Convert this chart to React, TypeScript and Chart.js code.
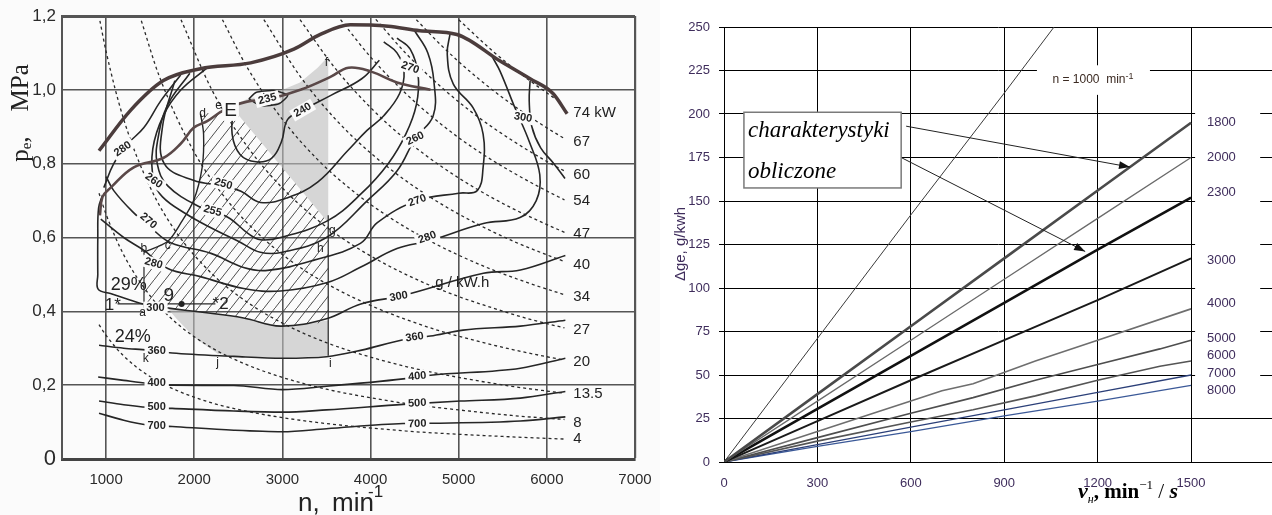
import React, { useEffect, useRef } from 'react';
import { Chart, registerables } from 'chart.js';

Chart.register(...registerables);
Chart.defaults.font.family = '"Liberation Sans", Arial, sans-serif';

// ================= LEFT PANEL: engine map =================
const nTicks = [1000, 2000, 3000, 4000, 5000, 6000, 7000];
const peTicks = [0, 0.2, 0.4, 0.6, 0.8, 1.0, 1.2];

const fullLoadN = [920, 1280, 1650, 2070, 2640, 3130, 3430, 3770, 4200, 4560, 4980, 5470, 5810, 6070, 6230];
const fullLoadPe = [0.835, 0.945, 1.025, 1.057, 1.073, 1.11, 1.15, 1.176, 1.172, 1.16, 1.15, 1.078, 1.03, 0.99, 0.935];

const eLineN = [930, 960, 1053, 1314, 1653, 1846, 1993, 2152, 2300, 2420, 2600, 2865, 3205, 3545, 3750, 4000, 4300, 4680];
const eLinePe = [0.66, 0.71, 0.735, 0.79, 0.816, 0.854, 0.897, 0.916, 0.94, 0.955, 0.968, 0.976, 1.0, 1.035, 1.06, 1.05, 1.02, 1.0];

const ge235N = [2620, 2700, 2900, 3060, 2960, 2760, 2620];
const ge235Pe = [0.975, 0.993, 0.998, 0.985, 0.962, 0.957, 0.975];
const ge240N = [2450, 2430, 2520, 2700, 2880, 2990, 3060, 3230, 3550, 3900, 4100];
const ge240Pe = [0.955, 0.88, 0.825, 0.805, 0.815, 0.86, 0.92, 0.945, 0.985, 1.03, 1.08];
const ge250N = [1780, 1640, 1660, 1990, 2330, 2530, 2750, 3060, 3400, 3740, 3960, 4150, 4330, 4380, 4300, 4150];
const ge250Pe = [1.025, 0.9, 0.8, 0.755, 0.74, 0.725, 0.695, 0.708, 0.75, 0.835, 0.89, 0.93, 0.99, 1.05, 1.1, 1.13];
const ge255N = [1950, 1700, 1590, 1580, 1700, 2070, 2380, 2605, 2750, 2980, 3510, 3900, 4200, 4400, 4520, 4540, 4450, 4300];
const ge255Pe = [1.045, 0.96, 0.87, 0.8, 0.74, 0.682, 0.655, 0.612, 0.594, 0.6, 0.645, 0.72, 0.8, 0.88, 0.96, 1.04, 1.11, 1.14];
const ge260N = [2150, 1850, 1650, 1530, 1540, 1640, 1900, 2200, 2500, 2750, 3000, 3500, 3964, 4300, 4507, 4711, 4720, 4650, 4500];
const ge260Pe = [1.06, 1.0, 0.93, 0.84, 0.754, 0.71, 0.665, 0.625, 0.59, 0.56, 0.56, 0.6, 0.7, 0.78, 0.868, 0.93, 1.02, 1.1, 1.16];
const ge270N = [1000, 1087, 1300, 1506, 1733, 2190, 2560, 2830, 3350, 3885, 4077, 4530, 5000, 5210, 5277, 5277, 5164, 4938, 4870, 4904];
const ge270Pe = [0.765, 0.727, 0.67, 0.627, 0.586, 0.557, 0.519, 0.511, 0.538, 0.584, 0.64, 0.7, 0.72, 0.727, 0.79, 0.88, 0.951, 1.016, 1.097, 1.154];
const ge280aN = [1846, 1620, 1427, 1246, 1087, 974];
const ge280aPe = [1.04, 0.97, 0.897, 0.854, 0.8, 0.735];
const ge280N = [940, 1200, 1430, 1700, 2070, 2560, 2980, 3510, 3890, 4300, 4677, 5280, 5696, 5880, 5920, 5800, 5640, 5470, 5380];
const ge280Pe = [0.65, 0.6, 0.565, 0.516, 0.494, 0.462, 0.455, 0.478, 0.52, 0.57, 0.592, 0.638, 0.654, 0.7, 0.77, 0.86, 0.95, 1.05, 1.09];
const ge300N = [960, 915, 906, 906, 910, 1050, 1280, 1420, 1730, 2070, 2560, 2980, 3500, 3890, 4370, 5280, 5700, 6210];
const ge300Pe = [0.715, 0.68, 0.6, 0.5, 0.46, 0.448, 0.43, 0.42, 0.408, 0.398, 0.382, 0.36, 0.38, 0.42, 0.443, 0.503, 0.512, 0.551];
const ge300bN = [5810, 5800, 5830, 5930, 6080, 6206];
const ge300bPe = [1.024, 0.97, 0.9, 0.843, 0.8, 0.76];
const ge360N = [920, 1200, 1470, 1750, 2450, 3000, 3500, 3900, 4370, 4680, 5050, 5700, 6210];
const ge360Pe = [0.308, 0.3, 0.295, 0.287, 0.278, 0.273, 0.277, 0.295, 0.323, 0.333, 0.349, 0.36, 0.376];
const ge400N = [910, 1200, 1470, 1750, 2450, 3000, 3500, 4370, 4680, 5700, 6210];
const ge400Pe = [0.222, 0.213, 0.205, 0.2, 0.199, 0.188, 0.197, 0.217, 0.227, 0.246, 0.273];
const ge500N = [920, 1200, 1470, 1750, 2450, 3000, 3500, 4370, 5020, 5700, 6210];
const ge500Pe = [0.157, 0.147, 0.14, 0.137, 0.13, 0.127, 0.133, 0.148, 0.157, 0.165, 0.183];
const ge700N = [920, 1200, 1470, 1750, 2450, 3000, 3500, 4370, 4700, 5700, 6210];
const ge700Pe = [0.124, 0.105, 0.092, 0.088, 0.078, 0.074, 0.082, 0.096, 0.097, 0.103, 0.114];

const abN = [1430, 1430];
const abPe = [0.41, 0.56];
const bcdN = [1430, 1700, 1850, 1993, 2090, 2106, 2072];
const bcdPe = [0.56, 0.59, 0.64, 0.7, 0.79, 0.88, 0.935];
const giN = [3520, 3520];
const giPe = [0.66, 0.28];
const moveN = [1130, 1857, 2240];
const movePe = [0.42, 0.42, 0.42];

const hatchN = [1430, 1430, 1700, 1850, 1993, 2090, 2106, 2072, 2300, 2420, 3520, 3520, 2980, 2560, 2070, 1730, 1430];
const hatchPe = [0.41, 0.56, 0.59, 0.64, 0.7, 0.79, 0.88, 0.935, 0.94, 0.955, 0.64, 0.37, 0.36, 0.382, 0.398, 0.408, 0.41];
const shadeTopN = [2420, 2600, 2900, 3200, 3400, 3520, 3520, 2420];
const shadeTopPe = [0.955, 0.975, 0.99, 1.02, 1.06, 1.09, 0.64, 0.955];
const shadeLowN = [1700, 2070, 2560, 2980, 3520, 3520, 3000, 2450, 2265, 2000, 1800, 1700];
const shadeLowPe = [0.408, 0.398, 0.382, 0.36, 0.375, 0.28, 0.273, 0.278, 0.285, 0.33, 0.38, 0.408];

// constant-power lines (dashed), kW
const p74N = [5000, 5400, 5800, 6100];
const p74Pe = [1.19, 1.102, 1.026, 0.975];
const p67N = [4520, 4800, 5200, 5600, 6000, 6200];
const p67Pe = [1.19, 1.121, 1.035, 0.961, 0.897, 0.868];
const p60N = [4060, 4400, 4800, 5200, 5600, 6000, 6200];
const p60Pe = [1.191, 1.099, 1.008, 0.93, 0.864, 0.806, 0.78];
const p54N = [3660, 4000, 4400, 4800, 5200, 5600, 6000, 6200];
const p54Pe = [1.19, 1.089, 0.99, 0.907, 0.837, 0.778, 0.726, 0.702];
const p47N = [3200, 3600, 4000, 4400, 4800, 5200, 5600, 6000, 6200];
const p47Pe = [1.19, 1.058, 0.952, 0.865, 0.793, 0.732, 0.68, 0.635, 0.614];
const p40N = [2790, 3200, 3600, 4000, 4400, 4800, 5200, 5600, 6000, 6200];
const p40Pe = [1.19, 1.037, 0.921, 0.829, 0.754, 0.691, 0.638, 0.592, 0.553, 0.535];
const p34N = [2320, 2600, 3000, 3400, 3800, 4200, 4600, 5000, 5400, 5800, 6200];
const p34Pe = [1.19, 1.061, 0.92, 0.811, 0.726, 0.657, 0.6, 0.552, 0.511, 0.476, 0.445];
const p27N = [1850, 2200, 2600, 3000, 3400, 3800, 4200, 4600, 5000, 5400, 5800, 6200];
const p27Pe = [1.19, 1.0, 0.847, 0.734, 0.647, 0.579, 0.524, 0.478, 0.44, 0.408, 0.379, 0.355];
const p20N = [1400, 1600, 2000, 2400, 2800, 3200, 3600, 4000, 4400, 4800, 5200, 5600, 6000, 6200];
const p20Pe = [1.187, 1.039, 0.831, 0.693, 0.594, 0.519, 0.462, 0.416, 0.378, 0.346, 0.32, 0.297, 0.277, 0.268];
const p13N = [930, 1000, 1200, 1500, 1800, 2200, 2600, 3000, 3500, 4000, 4500, 5000, 5600, 6200];
const p13Pe = [1.187, 1.104, 0.92, 0.736, 0.613, 0.502, 0.425, 0.368, 0.315, 0.276, 0.245, 0.221, 0.197, 0.178];
const p8N = [920, 1000, 1200, 1500, 1800, 2200, 2600, 3000, 3500, 4000, 4500, 5000, 5600, 6200];
const p8Pe = [0.72, 0.663, 0.553, 0.442, 0.368, 0.301, 0.255, 0.221, 0.189, 0.166, 0.147, 0.133, 0.118, 0.107];
const p4N = [920, 1000, 1200, 1500, 1800, 2200, 2600, 3000, 3500, 4000, 4500, 5000, 5600, 6200];
const p4Pe = [0.364, 0.335, 0.279, 0.223, 0.186, 0.152, 0.129, 0.112, 0.096, 0.084, 0.074, 0.067, 0.06, 0.054];

const powerLabelText = ['74 kW', '67', '60', '54', '47', '40', '34', '27', '20', '13.5', '8', '4'];
const powerLabelPe = [0.938, 0.859, 0.77, 0.7, 0.611, 0.527, 0.438, 0.351, 0.262, 0.176, 0.097, 0.054];
const powerLabelN = 6300;

const geLabelText = ['280', '260', '270', '250', '255', '240', '235', '260', '270', '270', '280', '300', '300', '280', '300', '360', '400', '500', '700', '360', '400', '500', '700'];
const geLabelN = [1190, 1540, 1480, 2330, 2208, 3230, 2830, 4507, 4450, 4530, 4643, 5730, 4320, 1540, 1560, 1574, 1574, 1574, 1574, 4500, 4530, 4530, 4530];
const geLabelPe = [0.84, 0.754, 0.645, 0.745, 0.672, 0.945, 0.975, 0.868, 1.06, 0.7, 0.6, 0.925, 0.44, 0.53, 0.41, 0.292, 0.205, 0.141, 0.089, 0.33, 0.224, 0.151, 0.095];
const geLabelAngle = [-35, 35, 40, 15, 15, -30, -15, -25, 20, -20, -20, 10, -10, 15, 0, 0, 0, 0, 0, -8, -5, -3, -2];

const pointText = ['a', 'b', 'c', 'd', 'e', 'f', 'g', 'h', 'i', 'j', 'k'];
const pointN = [1415, 1427, 1700, 2095, 2276, 3500, 3567, 3431, 3545, 2265, 1450];
const pointPe = [0.395, 0.57, 0.578, 0.935, 0.957, 1.073, 0.619, 0.57, 0.259, 0.262, 0.273];

const bigText = ['E', '29%', '24%', '9', '1*', '*2', 'g / kW.h'];
const bigN = [2412, 1257, 1302, 1710, 1076, 2299, 5040];
const bigPe = [0.943, 0.47, 0.33, 0.443, 0.416, 0.42, 0.478];
const bigSize = [19, 18, 18, 19, 17, 17, 15];

// ================= RIGHT PANEL: Δge vs νn =================
const vnTicks = [0, 300, 600, 900, 1200, 1500];
const dgeTicks = [0, 25, 50, 75, 100, 125, 150, 175, 200, 225, 250];
const speedNames = ['1800', '2000', '2300', '3000', '4000', '5000', '6000', '7000', '8000'];
const speedLabelY = [195, 175, 155, 116, 91, 71, 61, 51, 41];

const x1000 = [0, 300, 600, 900, 1060];
const y1000 = [0, 71, 142, 212, 250];
const xLin = [0, 300, 600, 900, 1200, 1500];
const y1800 = [0, 39, 78, 117, 156, 195];
const y2000 = [0, 35, 70, 105, 140, 175];
const y2300 = [0, 30.5, 61, 91.5, 122, 152];
const y3000 = [0, 23.5, 47, 70, 93, 117];
const x4000 = [0, 300, 600, 700, 800, 1000, 1200, 1500];
const y4000 = [0, 17.5, 35, 41, 45, 58, 70, 88];
const x5000 = [0, 300, 600, 800, 1000, 1200, 1400, 1500];
const y5000 = [0, 14, 28, 37, 47, 56, 65, 70];
const y6000 = [0, 12, 23, 30, 38, 47, 55, 58];
const y7000 = [0, 10, 20, 30, 40, 50];
const y8000 = [0, 9, 17.5, 26.5, 35, 44];

const pairs = (xs: number[], ys: number[]) => xs.map((v, i) => ({ x: v, y: ys[i] }));

const LEFT_BG = '#fbfbfb';
const RIGHT_TXT = '#3f2d5c';

function drawSegments(ctx: CanvasRenderingContext2D, segs: { t: string; f: string; dy: number }[], x0: number, y0: number) {
  let x = x0;
  segs.forEach((s) => {
    ctx.font = s.f;
    ctx.fillText(s.t, x, y0 + s.dy);
    x += ctx.measureText(s.t).width;
  });
}
function segWidth(ctx: CanvasRenderingContext2D, segs: { t: string; f: string; dy: number }[]) {
  let w = 0;
  segs.forEach((s) => { ctx.font = s.f; w += ctx.measureText(s.t).width; });
  return w;
}

const leftPlugin = {
  id: 'leftDeco',
  beforeDraw(chart: any) {
    const { ctx, width, height } = chart;
    ctx.save();
    ctx.fillStyle = LEFT_BG;
    ctx.fillRect(0, 0, width, height);
    ctx.restore();
  },
  afterDatasetsDraw(chart: any) {
    const { ctx } = chart;
    const xs = chart.scales.x, ys = chart.scales.y;
    ctx.save();
    geLabelText.forEach((t, i) => {
      const px = xs.getPixelForValue(geLabelN[i]);
      const py = ys.getPixelForValue(geLabelPe[i]);
      ctx.save();
      ctx.translate(px, py);
      ctx.rotate((geLabelAngle[i] * Math.PI) / 180);
      ctx.font = 'bold 11px "Liberation Sans"';
      const w = ctx.measureText(t).width;
      ctx.fillStyle = LEFT_BG;
      ctx.fillRect(-w / 2 - 3, -6, w + 6, 12);
      ctx.fillStyle = '#222';
      ctx.textAlign = 'center';
      ctx.textBaseline = 'middle';
      ctx.fillText(t, 0, 0);
      ctx.restore();
    });
    ctx.font = '12px "Liberation Sans"';
    ctx.fillStyle = '#222';
    ctx.textAlign = 'center';
    ctx.textBaseline = 'middle';
    pointText.forEach((t, i) => {
      ctx.fillText(t, xs.getPixelForValue(pointN[i]), ys.getPixelForValue(pointPe[i]));
    });
    bigText.forEach((t, i) => {
      ctx.font = bigSize[i] + 'px "Liberation Sans"';
      const px = xs.getPixelForValue(bigN[i]);
      const py = ys.getPixelForValue(bigPe[i]);
      if (t === 'E') {
        const w = ctx.measureText(t).width;
        ctx.fillStyle = LEFT_BG;
        ctx.fillRect(px - w / 2 - 2, py - 10, w + 4, 20);
      }
      ctx.fillStyle = '#222';
      ctx.fillText(t, px, py);
    });
    ctx.font = '15px "Liberation Sans"';
    ctx.textAlign = 'left';
    powerLabelText.forEach((t, i) => {
      ctx.fillText(t, xs.getPixelForValue(powerLabelN), ys.getPixelForValue(powerLabelPe[i]));
    });
    ctx.restore();
  },
  afterDraw(chart: any) {
    const { ctx } = chart;
    ctx.save();
    ctx.fillStyle = '#222';
    ctx.save();
    ctx.translate(21, 113);
    ctx.rotate(-Math.PI / 2);
    ctx.textBaseline = 'middle';
    const ySegs = [
      { t: 'p', f: '25px "Liberation Serif"', dy: 0 },
      { t: 'e', f: '15px "Liberation Serif"', dy: 6 },
      { t: ',', f: '25px "Liberation Serif"', dy: 0 },
      { t: '    MPa', f: '25px "Liberation Serif"', dy: 0 },
    ];
    const w = segWidth(ctx, ySegs);
    ctx.textAlign = 'left';
    drawSegments(ctx, ySegs, -w / 2, 0);
    ctx.restore();
    ctx.textAlign = 'left';
    ctx.textBaseline = 'alphabetic';
    ctx.font = '26px "Liberation Sans"';
    ctx.fillText('n,', 298, 511);
    ctx.fillText('min', 332, 511);
    ctx.font = '17px "Liberation Sans"';
    ctx.fillText('-1', 368, 497);
    ctx.restore();
  },
};

const rightPlugin = {
  id: 'rightDeco',
  beforeDraw(chart: any) {
    const { ctx, width, height } = chart;
    ctx.save();
    ctx.fillStyle = '#fff';
    ctx.fillRect(0, 0, width, height);
    ctx.restore();
  },
  beforeDatasetsDraw(chart: any) {
    const { ctx } = chart;
    const xs = chart.scales.x, ys = chart.scales.y;
    ctx.save();
    ctx.fillStyle = '#fff';
    const bx0 = xs.getPixelForValue(1513), bx1 = xs.getPixelForValue(1722);
    const by0 = ys.getPixelForValue(205), by1 = ys.getPixelForValue(38);
    ctx.fillRect(bx0, by0, bx1 - bx0, by1 - by0);
    const nx0 = xs.getPixelForValue(1005), nx1 = xs.getPixelForValue(1368);
    const ny0 = ys.getPixelForValue(228), ny1 = ys.getPixelForValue(211);
    ctx.fillRect(nx0, ny0, nx1 - nx0, ny1 - ny0);
    ctx.restore();
  },
  afterDatasetsDraw(chart: any) {
    const { ctx } = chart;
    const xs = chart.scales.x, ys = chart.scales.y;
    ctx.save();
    ctx.fillStyle = RIGHT_TXT;
    ctx.font = '13px "Liberation Sans"';
    ctx.textAlign = 'left';
    ctx.textBaseline = 'middle';
    speedNames.forEach((t, i) => {
      ctx.fillText(t, xs.getPixelForValue(1551), ys.getPixelForValue(speedLabelY[i]));
    });
    const segs = [
      { t: 'n = 1000  min', f: '12px "Liberation Sans"', dy: 0 },
      { t: '-1', f: '9px "Liberation Sans"', dy: -4 },
    ];
    ctx.fillStyle = '#3b2a22';
    const w = segWidth(ctx, segs);
    drawSegments(ctx, segs, xs.getPixelForValue(1185) - w / 2, ys.getPixelForValue(219.5));
    const arrow = (xa: number, ya: number, xb: number, yb: number) => {
      const x1 = xs.getPixelForValue(xa), y1 = ys.getPixelForValue(ya);
      const x2 = xs.getPixelForValue(xb), y2 = ys.getPixelForValue(yb);
      ctx.strokeStyle = '#222';
      ctx.lineWidth = 1;
      ctx.beginPath();
      ctx.moveTo(x1, y1);
      ctx.lineTo(x2, y2);
      ctx.stroke();
      const a = Math.atan2(y2 - y1, x2 - x1);
      ctx.fillStyle = '#111';
      ctx.beginPath();
      ctx.moveTo(x2, y2);
      ctx.lineTo(x2 - 11 * Math.cos(a) + 4 * Math.sin(a), y2 - 11 * Math.sin(a) - 4 * Math.cos(a));
      ctx.lineTo(x2 - 11 * Math.cos(a) - 4 * Math.sin(a), y2 - 11 * Math.sin(a) + 4 * Math.cos(a));
      ctx.closePath();
      ctx.fill();
    };
    arrow(585, 193, 1304, 169.5);
    arrow(569, 175, 1160, 121);
    const cx0 = xs.getPixelForValue(64), cx1 = xs.getPixelForValue(569);
    const cy0 = ys.getPixelForValue(201), cy1 = ys.getPixelForValue(157.5);
    ctx.fillStyle = '#fff';
    ctx.fillRect(cx0, cy0, cx1 - cx0, cy1 - cy0);
    ctx.strokeStyle = '#7a7a7a';
    ctx.lineWidth = 1.5;
    ctx.strokeRect(cx0, cy0, cx1 - cx0, cy1 - cy0);
    ctx.fillStyle = '#000';
    ctx.font = 'italic 23px "Liberation Serif"';
    ctx.textBaseline = 'alphabetic';
    ctx.fillText('charakterystyki', xs.getPixelForValue(77), ys.getPixelForValue(187));
    ctx.fillText('obliczone', xs.getPixelForValue(77), ys.getPixelForValue(163));
    ctx.restore();
  },
  afterDraw(chart: any) {
    const { ctx } = chart;
    ctx.save();
    ctx.save();
    ctx.translate(21, 244);
    ctx.rotate(-Math.PI / 2);
    ctx.fillStyle = RIGHT_TXT;
    ctx.font = '15px "Liberation Sans"';
    ctx.textAlign = 'center';
    ctx.textBaseline = 'middle';
    ctx.fillText('Δge, g/kwh', 0, 0);
    ctx.restore();
    ctx.fillStyle = '#000';
    ctx.textAlign = 'left';
    ctx.textBaseline = 'alphabetic';
    drawSegments(ctx, [
      { t: 'ν', f: 'italic bold 22px "Liberation Serif"', dy: 0 },
      { t: 'н', f: 'italic 12px "Liberation Serif"', dy: 5 },
      { t: ', min', f: 'bold 21px "Liberation Serif"', dy: 0 },
      { t: '−1', f: '13px "Liberation Serif"', dy: -9 },
      { t: ' / ', f: '21px "Liberation Serif"', dy: 0 },
      { t: 's', f: 'italic bold 22px "Liberation Serif"', dy: 0 },
    ], 418, 498);
    ctx.restore();
  },
};

function makeHatch(): CanvasPattern | string {
  const c = document.createElement('canvas');
  c.width = 11;
  c.height = 14;
  const g = c.getContext('2d');
  if (!g) return 'rgba(0,0,0,0.1)';
  g.strokeStyle = '#3a3a3a';
  g.lineWidth = 0.9;
  g.beginPath();
  g.moveTo(-1, 15.27);
  g.lineTo(12, -1.27);
  g.stroke();
  return g.createPattern(c, 'repeat') || 'rgba(0,0,0,0.1)';
}

function LeftChart() {
  const ref = useRef<HTMLCanvasElement>(null);
  useEffect(() => {
    if (!ref.current) return;
    const hatch = makeHatch();
    const solid = (ns: number[], ps: number[], extra: any = {}) => ({
      data: pairs(ns, ps), borderColor: '#262626', borderWidth: 1.6, pointRadius: 0, tension: 0.4, fill: false, ...extra,
    });
    const dashed = (ns: number[], ps: number[]) => ({
      data: pairs(ns, ps), borderColor: '#2a2a2a', borderWidth: 1.3, borderDash: [3, 3], pointRadius: 0,
      cubicInterpolationMode: 'monotone', fill: false,
    });
    const area = (ns: number[], ps: number[], bg: any) => ({
      data: pairs(ns, ps), borderWidth: 0, borderColor: 'rgba(0,0,0,0)', backgroundColor: bg, fill: 'shape', tension: 0, pointRadius: 0,
    });
    const datasets: any[] = [
      solid(fullLoadN, fullLoadPe, { borderColor: '#4b3c3c', borderWidth: 3.5, cubicInterpolationMode: 'monotone' }),
      solid(eLineN, eLinePe, { borderColor: '#5a4848', borderWidth: 2.6 }),
      solid(ge235N, ge235Pe, { tension: 0.2 }),
      solid(ge240N, ge240Pe),
      solid(ge250N, ge250Pe),
      solid(ge255N, ge255Pe),
      solid(ge260N, ge260Pe),
      solid(ge270N, ge270Pe),
      solid(ge280aN, ge280aPe),
      solid(ge280N, ge280Pe),
      solid(ge300N, ge300Pe),
      solid(ge300bN, ge300bPe),
      solid(ge360N, ge360Pe, { cubicInterpolationMode: 'monotone' }),
      solid(ge400N, ge400Pe, { cubicInterpolationMode: 'monotone' }),
      solid(ge500N, ge500Pe, { cubicInterpolationMode: 'monotone' }),
      solid(ge700N, ge700Pe, { cubicInterpolationMode: 'monotone' }),
      solid(abN, abPe, { tension: 0, borderWidth: 1.2 }),
      solid(bcdN, bcdPe, { borderWidth: 1.4, tension: 0.3 }),
      solid(giN, giPe, { tension: 0, borderWidth: 1.2 }),
      solid(moveN, movePe, { tension: 0, borderWidth: 1.2, pointRadius: [0, 3, 0], pointBackgroundColor: '#222', pointBorderWidth: 0 }),
      dashed(p74N, p74Pe),
      dashed(p67N, p67Pe),
      dashed(p60N, p60Pe),
      dashed(p54N, p54Pe),
      dashed(p47N, p47Pe),
      dashed(p40N, p40Pe),
      dashed(p34N, p34Pe),
      dashed(p27N, p27Pe),
      dashed(p20N, p20Pe),
      dashed(p13N, p13Pe),
      dashed(p8N, p8Pe),
      dashed(p4N, p4Pe),
      area(hatchN, hatchPe, hatch),
      area(shadeTopN, shadeTopPe, 'rgba(190,190,190,0.6)'),
      area(shadeLowN, shadeLowPe, 'rgba(190,190,190,0.6)'),
    ];
    const chart = new Chart(ref.current, {
      type: 'line',
      data: { datasets },
      plugins: [leftPlugin],
      options: {
        responsive: false,
        animation: false,
        events: [],
        layout: { padding: { top: 16, right: 25, left: 0, bottom: 0 } },
        plugins: { legend: { display: false }, tooltip: { enabled: false } },
        scales: {
          x: {
            type: 'linear', min: 500, max: 7000,
            afterBuildTicks: (s: any) => { s.ticks = nTicks.map((v) => ({ value: v })); },
            afterFit: (s: any) => { s.height = 56; s.paddingLeft = 0; s.paddingRight = 0; },
            grid: { color: '#555', lineWidth: (c: any) => (c.tick && c.tick.value === 7000 ? 2.2 : 1.6), drawTicks: false },
            border: { color: '#444', width: 3 },
            ticks: { padding: 12, color: '#2a2a2a', font: { size: 15 }, callback: (v: any) => String(v) },
          },
          y: {
            type: 'linear', min: 0, max: 1.2,
            afterBuildTicks: (s: any) => { s.ticks = peTicks.map((v) => ({ value: v })); },
            afterFit: (s: any) => { s.width = 62; s.paddingTop = 0; s.paddingBottom = 0; },
            grid: { color: '#555', lineWidth: (c: any) => (c.tick && c.tick.value === 1.2 ? 3 : 1.6), drawTicks: false },
            border: { color: '#555', width: 2 },
            ticks: {
              padding: 6, color: '#2a2a2a',
              font: (c: any) => ({ size: c.tick && c.tick.value === 0 ? 22 : 17 }),
              callback: (v: any) => (v === 0 ? '0' : Number(v).toFixed(1).replace('.', ',')),
            },
          },
        },
      } as any,
    });
    return () => chart.destroy();
  }, []);
  return <canvas ref={ref} width={660} height={515} style={{ position: 'absolute', left: 0, top: 0, width: 660, height: 515 }} />;
}

function RightChart() {
  const ref = useRef<HTMLCanvasElement>(null);
  useEffect(() => {
    if (!ref.current) return;
    const ln = (xs: number[], ys: number[], color: string, w: number) => ({
      data: pairs(xs, ys), borderColor: color, borderWidth: w, pointRadius: 0, tension: 0, fill: false,
    });
    const datasets: any[] = [
      ln(x1000, y1000, '#3a3a3a', 1),
      ln(xLin, y1800, '#4a4a4a', 2.6),
      ln(xLin, y2000, '#6a6a6a', 1.3),
      ln(xLin, y2300, '#111111', 2.6),
      ln(xLin, y3000, '#1a1a1a', 2),
      ln(x4000, y4000, '#6e6e6e', 1.6),
      ln(x5000, y5000, '#4e4e4e', 1.6),
      ln(x5000, y6000, '#555555', 1.6),
      ln(xLin, y7000, '#2b3f78', 1.3),
      ln(xLin, y8000, '#3b5998', 1.3),
    ];
    const chart = new Chart(ref.current, {
      type: 'line',
      data: { datasets },
      plugins: [rightPlugin],
      options: {
        responsive: false,
        animation: false,
        events: [],
        layout: { padding: { top: 27, right: 0, left: 0, bottom: 0 } },
        plugins: { legend: { display: false }, tooltip: { enabled: false } },
        scales: {
          x: {
            type: 'linear', min: 0, max: 1760,
            afterBuildTicks: (s: any) => { s.ticks = vnTicks.map((v) => ({ value: v })); },
            afterFit: (s: any) => { s.height = 53; s.paddingLeft = 0; s.paddingRight = 0; },
            grid: { color: '#000', lineWidth: 1, drawTicks: false },
            border: { color: '#000', width: 1 },
            ticks: { padding: 14, color: RIGHT_TXT, font: { size: 13 }, callback: (v: any) => String(v) },
          },
          y: {
            type: 'linear', min: 0, max: 250,
            afterBuildTicks: (s: any) => { s.ticks = dgeTicks.map((v) => ({ value: v })); },
            afterFit: (s: any) => { s.width = 64; s.paddingTop = 0; s.paddingBottom = 0; },
            grid: { color: '#000', lineWidth: 1, drawTicks: true, tickLength: 5 },
            border: { color: '#000', width: 1 },
            ticks: { padding: 9, color: RIGHT_TXT, font: { size: 13 }, callback: (v: any) => String(v) },
          },
        },
      } as any,
    });
    return () => chart.destroy();
  }, []);
  return <canvas ref={ref} width={612} height={515} style={{ position: 'absolute', left: 660, top: 0, width: 612, height: 515 }} />;
}

export default function App() {
  return (
    <div style={{ position: 'absolute', left: 0, top: 0, width: 1272, height: 515, background: '#fff', overflow: 'hidden' }}>
      <LeftChart />
      <RightChart />
    </div>
  );
}
